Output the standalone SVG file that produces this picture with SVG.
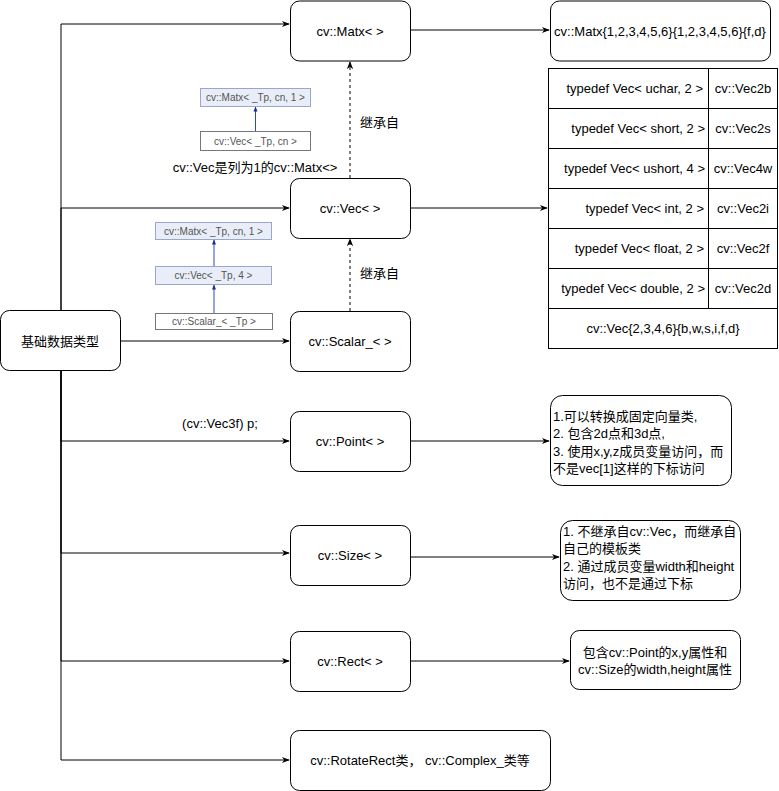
<svg xmlns="http://www.w3.org/2000/svg" width="779" height="791" viewBox="0 0 779 791">
  <style>
    text { font-family: "Liberation Sans", "Noto Sans CJK SC", sans-serif; font-size: 13px; fill: #000; }
    .node { fill: #fff; stroke: #000; stroke-width: 1; }
    .cell { fill: #fff; stroke: #000; stroke-width: 1; }
    .edge { fill: none; stroke: #000; stroke-width: 1; }
    .dash { fill: none; stroke: #000; stroke-width: 1; stroke-dasharray: 3 3; }
    .c { text-anchor: middle; dominant-baseline: central; }
    .l { dominant-baseline: central; }
    .r { text-anchor: end; dominant-baseline: central; }
    .dx { fill: #e8edf8; stroke: #9aa6cc; stroke-width: 1; }
    .dw { fill: #fff; stroke: #777; stroke-width: 1; }
    .dt { font-size: 10px; fill: #555; text-anchor: middle; dominant-baseline: central; }
    .dl { fill: none; stroke: #3848b8; stroke-width: 1; }
  </style>
  <defs>
    <marker id="arrow" viewBox="0 0 10 10" refX="9" refY="5" markerWidth="8" markerHeight="8" orient="auto" markerUnits="userSpaceOnUse">
      <path d="M0,1 L10,5 L0,9 L3,5 z" fill="#000"/>
    </marker>
    <marker id="darrow" viewBox="0 0 10 10" refX="9" refY="5" markerWidth="5" markerHeight="5" orient="auto" markerUnits="userSpaceOnUse">
      <path d="M0,1 L10,5 L0,9 z" fill="#1a2a9a"/>
    </marker>
  </defs>

  <!-- connectors -->
  <g id="edges">
    <path class="edge" d="M61,310 V24 H289" marker-end="url(#arrow)"/>
    <path class="edge" d="M61,310 V208 H289" marker-end="url(#arrow)"/>
    <path class="edge" d="M120,341 H289" marker-end="url(#arrow)"/>
    <path class="edge" d="M61,371 V441 H289" marker-end="url(#arrow)"/>
    <path class="edge" d="M61,371 V553 H289" marker-end="url(#arrow)"/>
    <path class="edge" d="M61,371 V661 H289" marker-end="url(#arrow)"/>
    <path class="edge" d="M61,371 V760 H289" marker-end="url(#arrow)"/>
    <path class="edge" d="M411,30 H549" marker-end="url(#arrow)"/>
    <path class="edge" d="M411,208 H547" marker-end="url(#arrow)"/>
    <path class="edge" d="M411,441 H549" marker-end="url(#arrow)"/>
    <path class="edge" d="M411,557 H559" marker-end="url(#arrow)"/>
    <path class="edge" d="M411,661 H569" marker-end="url(#arrow)"/>
    <path class="dash" d="M350,178 V62" marker-end="url(#arrow)"/>
    <path class="dash" d="M350,311 V239" marker-end="url(#arrow)"/>
    <text x="360" y="122" class="l">继承自</text>
    <text x="360" y="273" class="l">继承自</text>
    <text x="220" y="423" class="c">(cv::Vec3f) p;</text>
  </g>

  <!-- root node -->
  <g id="basic-types">
    <rect class="node" x="0.5" y="310.5" width="120" height="60" rx="9"/>
    <text x="60" y="341" class="c">基础数据类型</text>
  </g>

  <g id="matx">
    <rect class="node" x="290.5" y="1" width="120" height="60" rx="9"/>
    <text x="350" y="31" class="c">cv::Matx&lt; &gt;</text>
  </g>
  <g id="vec">
    <rect class="node" x="290.5" y="178.5" width="120" height="60" rx="9"/>
    <text x="350" y="208" class="c">cv::Vec&lt; &gt;</text>
  </g>
  <g id="scalar">
    <rect class="node" x="290.5" y="311.5" width="120" height="60" rx="9"/>
    <text x="350" y="341" class="c">cv::Scalar_&lt; &gt;</text>
  </g>
  <g id="point">
    <rect class="node" x="290.5" y="411.5" width="120" height="60" rx="9"/>
    <text x="350" y="441" class="c">cv::Point&lt; &gt;</text>
  </g>
  <g id="size">
    <rect class="node" x="290.5" y="525.5" width="120" height="60" rx="9"/>
    <text x="350" y="555" class="c">cv::Size&lt; &gt;</text>
  </g>
  <g id="rect">
    <rect class="node" x="290.5" y="631.5" width="120" height="60" rx="9"/>
    <text x="350" y="661" class="c">cv::Rect&lt; &gt;</text>
  </g>
  <g id="others">
    <rect class="node" x="290.5" y="730.5" width="260" height="60" rx="9"/>
    <text x="420" y="760" class="c">cv::RotateRect类， cv::Complex_类等</text>
  </g>

  <!-- Matx shorthand -->
  <g id="matx-types">
    <rect class="node" x="550.5" y="1" width="220" height="60" rx="9"/>
    <text x="660" y="31" class="c">cv::Matx{1,2,3,4,5,6}{1,2,3,4,5,6}{f,d}</text>
  </g>

  <!-- Vec typedef table -->
  <g id="vec-table">
    <rect class="cell" x="548.5" y="68.5" width="160" height="40"/>
    <rect class="cell" x="708.5" y="68.5" width="69" height="40"/>
    <rect class="cell" x="548.5" y="108.5" width="160" height="40"/>
    <rect class="cell" x="708.5" y="108.5" width="69" height="40"/>
    <rect class="cell" x="548.5" y="148.5" width="160" height="40"/>
    <rect class="cell" x="708.5" y="148.5" width="69" height="40"/>
    <rect class="cell" x="548.5" y="188.5" width="160" height="40"/>
    <rect class="cell" x="708.5" y="188.5" width="69" height="40"/>
    <rect class="cell" x="548.5" y="228.5" width="160" height="40"/>
    <rect class="cell" x="708.5" y="228.5" width="69" height="40"/>
    <rect class="cell" x="548.5" y="268.5" width="160" height="40"/>
    <rect class="cell" x="708.5" y="268.5" width="69" height="40"/>
    <rect class="cell" x="548.5" y="308.5" width="229" height="40"/>
    <text x="703" y="88" class="r">typedef Vec&lt; uchar, 2 &gt;</text>
    <text x="705" y="128" class="r">typedef Vec&lt; short, 2 &gt;</text>
    <text x="705" y="168" class="r">typedef Vec&lt; ushort, 4 &gt;</text>
    <text x="704" y="208" class="r">typedef Vec&lt; int, 2 &gt;</text>
    <text x="704" y="248" class="r">typedef Vec&lt; float, 2 &gt;</text>
    <text x="705" y="288" class="r">typedef Vec&lt; double, 2 &gt;</text>
    <text x="743" y="88" class="c">cv::Vec2b</text>
    <text x="743" y="128" class="c">cv::Vec2s</text>
    <text x="743" y="168" class="c">cv::Vec4w</text>
    <text x="743" y="208" class="c">cv::Vec2i</text>
    <text x="743" y="248" class="c">cv::Vec2f</text>
    <text x="743" y="288" class="c">cv::Vec2d</text>
    <text x="663" y="328" class="c">cv::Vec{2,3,4,6}{b,w,s,i,f,d}</text>
  </g>

  <!-- notes -->
  <g id="point-note">
    <rect class="node" x="550.5" y="395.5" width="181" height="90" rx="12"/>
    <text x="553" y="416" class="l">1.可以转换成固定向量类,</text>
    <text x="553" y="433" class="l">2. 包含2d点和3d点,</text>
    <text x="553" y="451" class="l">3. 使用x,y,z成员变量访问，而</text>
    <text x="553" y="468" class="l">不是vec[1]这样的下标访问</text>
  </g>
  <g id="size-note">
    <rect class="node" x="560.5" y="520.5" width="180" height="80" rx="12"/>
    <text x="563" y="531" class="l">1. 不继承自cv::Vec，而继承自</text>
    <text x="563" y="548" class="l">自己的模板类</text>
    <text x="563" y="566" class="l">2. 通过成员变量width和height</text>
    <text x="563" y="583" class="l">访问，也不是通过下标</text>
  </g>
  <g id="rect-note">
    <rect class="node" x="570.5" y="630.5" width="170" height="59" rx="9"/>
    <text x="655" y="652" class="c">包含cv::Point的x,y属性和</text>
    <text x="655" y="669" class="c">cv::Size的width,height属性</text>
  </g>

  <!-- inheritance sketch: Matx -> Vec -->
  <g id="vec-hierarchy">
    <rect class="dx" x="200.5" y="88.5" width="110" height="18"/>
    <text x="255.5" y="97.5" class="dt">cv::Matx&lt; _Tp, cn, 1 &gt;</text>
    <rect class="dw" x="200.5" y="131.5" width="110" height="19"/>
    <text x="255.5" y="141" class="dt">cv::Vec&lt; _Tp, cn &gt;</text>
    <path class="dl" d="M255.5,131 V107" marker-end="url(#darrow)"/>
    <text x="255" y="167" class="c">cv::Vec是列为1的cv::Matx&lt;&gt;</text>
  </g>

  <!-- inheritance sketch: Matx -> Vec -> Scalar_ -->
  <g id="scalar-hierarchy">
    <rect class="dx" x="155.5" y="222.5" width="116" height="17"/>
    <text x="213.5" y="231" class="dt">cv::Matx&lt; _Tp, cn, 1 &gt;</text>
    <rect class="dx" x="155.5" y="266.5" width="116" height="18"/>
    <text x="213.5" y="275.5" class="dt">cv::Vec&lt; _Tp, 4 &gt;</text>
    <rect class="dw" x="155.5" y="313.5" width="117" height="16"/>
    <text x="214" y="321.5" class="dt">cv::Scalar_&lt; _Tp &gt;</text>
    <path class="dl" d="M214,266 V240" marker-end="url(#darrow)"/>
    <path class="dl" d="M214,313 V285" marker-end="url(#darrow)"/>
  </g>
</svg>
